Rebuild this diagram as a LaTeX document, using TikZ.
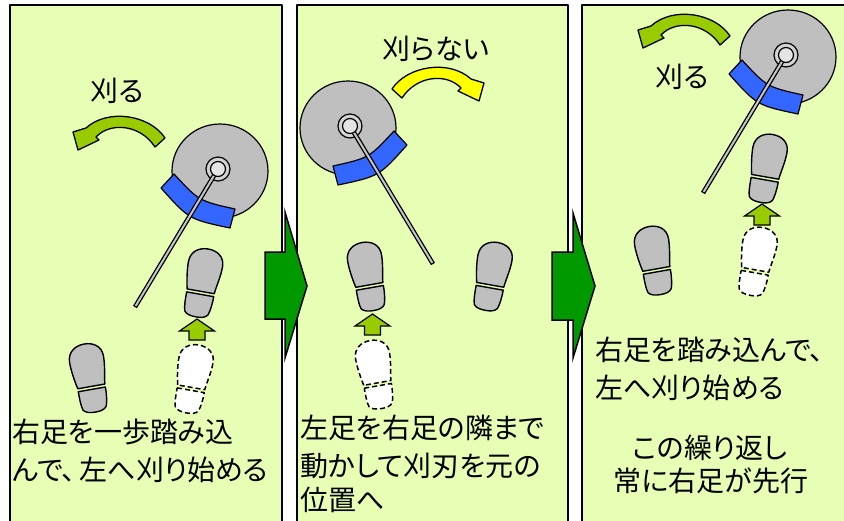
\documentclass[tikz,border=0pt]{standalone}
\usepackage{fontspec}
\newfontfamily\jpfont{Noto Sans CJK JP}[RawFeature={+palt}]
\definecolor{panelfill}{HTML}{E6FFB4}
\definecolor{bigarrowgreen}{HTML}{009900}
\definecolor{leafgreen}{HTML}{99CC00}
\definecolor{swingyellow}{HTML}{FFFF00}
\definecolor{solegray}{HTML}{BFBFBF}
\definecolor{guardblue}{HTML}{3366FF}
\definecolor{hubgray}{HTML}{D4D4D4}
\definecolor{caplight}{HTML}{E4E4E4}
\tikzset{
  panelbox/.style={draw=black, line width=1.5pt, fill=panelfill},
  bigarrow/.style={draw=black, line width=1.5pt, fill=bigarrowgreen, line join=miter},
  sole/.style={draw=black, line width=1.4pt, fill=solegray},
  oldsole/.style={draw=black, line width=1.5pt, dash pattern=on 5pt off 3pt, fill=white},
  movearrow/.style={draw=black, line width=1.2pt, fill=leafgreen, line join=miter},
  swinggreen/.style={draw=black, line width=1.3pt, fill=leafgreen},
  swingyel/.style={draw=black, line width=1.3pt, fill=swingyellow},
  disc/.style={draw=black, line width=1.2pt, fill=solegray},
  guard/.style={draw=black, line width=1.2pt, fill=guardblue},
  hubring/.style={draw=black, line width=1.2pt, fill=hubgray},
  hubcap/.style={draw=black, line width=1.2pt, fill=caplight},
  jtext/.style={font=\jpfont\fontsize{28}{34}\selectfont, inner sep=0pt, text=black},
  % shoe sole: toe part and heel part, centred on the origin
  pics/footprint/.style={code={
    \path[#1] (-14,9) .. controls (-16,0) and (-17.5,-10) .. (-17.5,-18)
      .. controls (-17.5,-29) and (-9,-34) .. (0,-34)
      .. controls (9,-34) and (17,-29) .. (17,-19)
      .. controls (17,-9) and (14.5,0) .. (13.5,9) -- cycle;
    \path[#1] (-14,12) -- (13.5,12) .. controls (13.5,20) and (12.5,27) .. (11,31)
      .. controls (9,34) and (5,35) .. (0,35)
      .. controls (-6,35) and (-10.5,34) .. (-12.5,31)
      .. controls (-14,27) and (-14,19) .. (-14,12) -- cycle;
  }},
  % small block arrow, tip at the origin
  pics/steparrow/.style={code={
    \path[movearrow] (0,0) -- (17.5,12) -- (8,12) -- (8,21) -- (-8,21)
      -- (-8,12) -- (-17.5,12) -- cycle;
  }},
  % curved swing arrow, origin at the tail's outer corner
  pics/swing/.style={code={
    \path[#1] (0,0) .. controls (-15,-23) and (-57,-30) .. (-79,-10)
      -- (-92,-6) -- (-87,12) -- (-66,2) -- (-69,-1)
      .. controls (-55,-16) and (-25,-14) .. (-10,9) -- cycle;
  }},
  % brush cutter head: disc, guard, hub and shaft
  pics/mower/.style={code={
    \path[disc] (2,2) ellipse [x radius=48pt, y radius=47pt];
    \path[guard] (-57,19) -- (-44,5) .. controls (-19,32) .. (17,40)
      -- (12,59) .. controls (-29,50.3) .. (-57,19) -- cycle;
    \path[hubring] (0,0) circle [radius=12pt];
    \draw[line width=4.6pt, black] (0,0) -- (-83,138);
    \draw[line width=2pt, gray!45, shorten >=1.3pt] (0,0) -- (-83,138);
    \path[hubcap] (0,0) circle [radius=7.5pt];
  }},
}
\begin{document}
\begin{tikzpicture}[x=1pt, y=-1pt, line join=round]
\useasboundingbox (0,0) rectangle (844,520);
\fill[white] (0,0) rectangle (844,520);
\clip (0,0) rectangle (844,520);

% three panels
\path[panelbox] (10,5) rectangle (282,530);
\path[panelbox] (297,5) rectangle (568,530);
\path[panelbox] (582,5) rectangle (860,530);

% arrows between panels
\path[bigarrow] (265,252) -- (285,252) -- (285,212) -- (307,286) -- (285,358)
  -- (285,319) -- (265,319) -- cycle;
\path[bigarrow] (552,252) -- (573,252) -- (573,213) -- (595,286) -- (573,358)
  -- (573,320) -- (552,320) -- cycle;

% panel 1
\pic at (165,138) {swing=swinggreen};
\pic at (218,169) {mower};
\pic[rotate=-10] at (202.5,282.5) {footprint=sole};
\pic[rotate=-10] at (193,378.5) {footprint=oldsole};
\pic[rotate=10] at (90,377.5) {footprint=sole};
\pic at (197,319) {steparrow};
\node[jtext, anchor=base] (t1) at (117,101.6) {刈る};
\node[jtext, anchor=base west] (p1a) at (12,442.6) {右足を一歩踏み込};
\node[jtext, anchor=base west] (p1b) at (12,480.6) {んで、\kern4pt 左へ刈り始める};

% panel 2
\pic[xscale=-1] at (392,89) {swing=swingyel};
\pic[xscale=-1] at (350,126) {mower};
\pic[rotate=10] at (368,276) {footprint=sole};
\pic[rotate=-10] at (492,276) {footprint=sole};
\pic[rotate=10] at (376,374) {footprint=oldsole};
\pic at (372.5,314) {steparrow};
\node[jtext, anchor=base] (t2) at (436,59.6) {刈らない};
\node[jtext, anchor=base west] (p2a) at (300,438.6) {左足を右足の隣まで};
\node[jtext, anchor=base west] (p2b) at (300,476.6) {動かして刈刃を元の};
\node[jtext, anchor=base west] (p2c) at (300,510) {位置へ};

% panel 3
\pic at (730,36) {swing=swinggreen};
\pic at (786,55) {mower};
\pic[rotate=-10] at (767,168) {footprint=sole};
\pic[rotate=-10] at (757,261) {footprint=oldsole};
\pic[rotate=10] at (655,260) {footprint=sole};
\pic at (762,204) {steparrow};
\node[jtext, anchor=base] (t3) at (682,87.6) {刈る};
\node[jtext, anchor=base west] (p3a) at (595,360.6) {右足を踏み込んで、};
\node[jtext, anchor=base west] (p3b) at (595,398.6) {左へ刈り始める};
\node[jtext, anchor=base] (p3c) at (710,458.6) {この繰り返し};
\node[jtext, anchor=base] (p3d) at (711,491.6) {常に右足が先行};
\end{tikzpicture}
\end{document}
